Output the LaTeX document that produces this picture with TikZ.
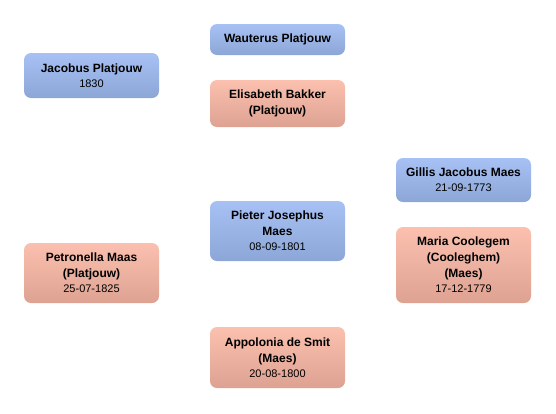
\documentclass[tikz,border=0pt]{standalone}
\usepackage{fontspec}
\setmainfont{Liberation Sans}
\usepackage{xcolor}
\definecolor{maletop}{RGB}{168,193,245}
\definecolor{malebot}{RGB}{140,166,214}
\definecolor{femtop}{RGB}{251,192,174}
\definecolor{fembot}{RGB}{221,162,146}
\newcommand{\bday}[1]{\\[-1pt]{\fontsize{11}{13}\selectfont\mdseries #1}}

\begin{document}
\begin{tikzpicture}[x=1pt, y=-1pt,
  person/.style={rounded corners=7pt, minimum width=135pt, align=center,
    font=\fontsize{12}{16}\selectfont\bfseries, inner sep=0pt},
  male/.style={person, top color=maletop, bottom color=malebot},
  female/.style={person, top color=femtop, bottom color=fembot}]
  \useasboundingbox (0,0) rectangle (556,413);
  % generation 1
  \node[male, minimum height=31pt] (wauterus) at (277.5,39.5) {Wauterus Platjouw};
  \node[female, minimum height=47pt] (elisabeth) at (277.5,103.5) {Elisabeth Bakker\\(Platjouw)};
  \node[male, minimum height=45pt] (jacobus) at (91.5,75.5) {Jacobus Platjouw\bday{1830}};
  % generation 2
  \node[male, minimum height=44pt] (gillis) at (463.5,180) {Gillis Jacobus Maes\bday{21-09-1773}};
  \node[female, minimum height=76pt] (maria) at (463.5,265) {Maria Coolegem\\(Cooleghem)\\(Maes)\bday{17-12-1779}};
  \node[male, minimum height=60pt] (pieter) at (277.5,231) {Pieter Josephus\\Maes\bday{08-09-1801}};
  \node[female, minimum height=60pt] (petronella) at (91.5,273) {Petronella Maas\\(Platjouw)\bday{25-07-1825}};
  \node[female, minimum height=61pt] (appolonia) at (277.5,357.5) {Appolonia de Smit\\(Maes)\bday{20-08-1800}};
\end{tikzpicture}
\end{document}
